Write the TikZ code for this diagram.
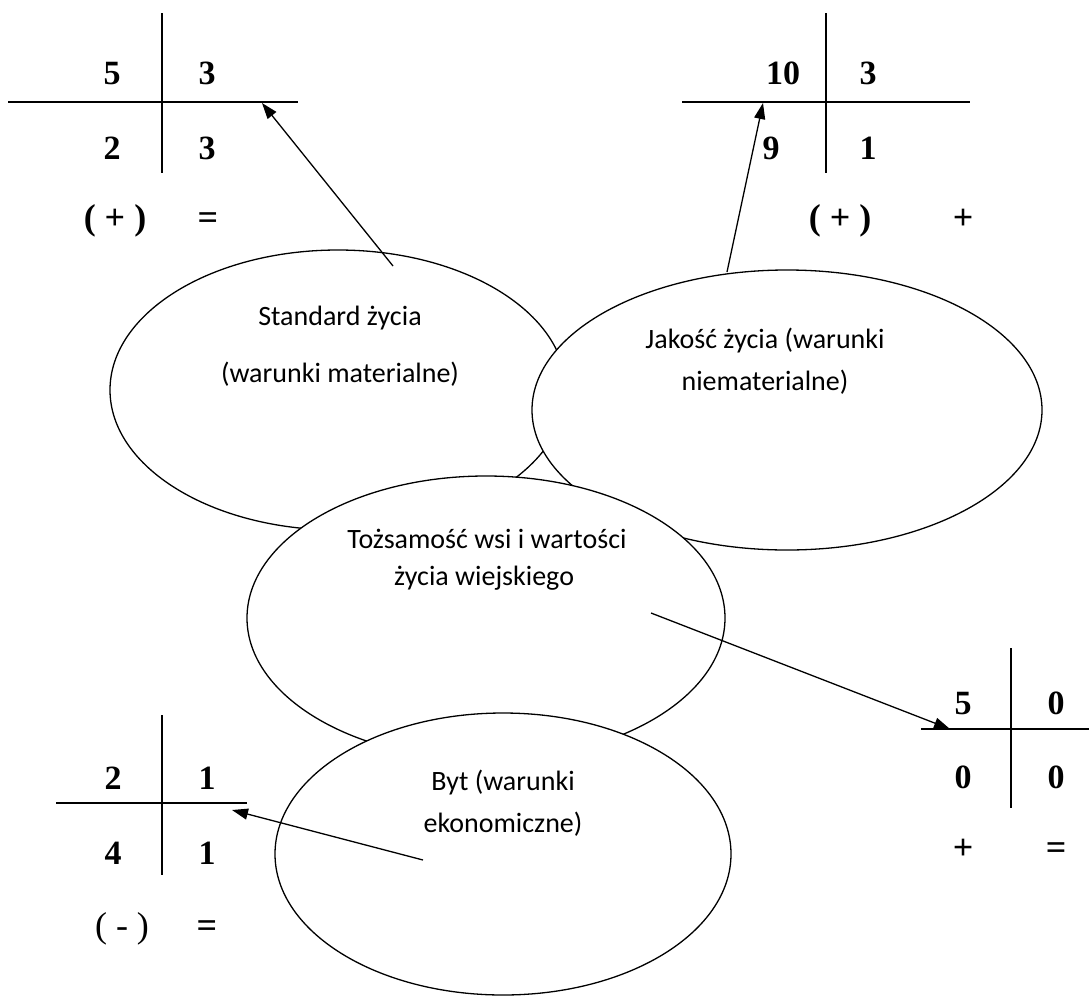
\documentclass[tikz,border=0pt]{standalone}
\usepackage{fontspec}
\setmainfont{Liberation Serif}
\newfontfamily\calib{Carlito}
\usetikzlibrary{shapes.geometric,arrows.meta}
\begin{document}
\begin{tikzpicture}[x=1pt,y=-1pt,
  oval/.style={draw, line width=1.3pt, fill=white, ellipse, inner sep=0pt},
  lbl/.style={font=\calib\fontsize{28}{34}\selectfont, anchor=base, inner sep=0pt},
  num/.style={font=\bfseries\fontsize{34}{40}\selectfont, anchor=base, inner sep=0pt},
  sym/.style={font=\bfseries\fontsize{36}{42}\selectfont, anchor=base, inner sep=0pt},
  symr/.style={font=\fontsize{36}{42}\selectfont, anchor=base, inner sep=0pt},
  rule/.style={line width=1.6pt},
  arr/.style={line width=1.3pt, -{Triangle[length=16pt,width=11pt]}}
]
\useasboundingbox (0,0) rectangle (1089,996);

% ---- top-left table
\coordinate (tlT) at (162,13); \coordinate (tlB) at (162,173);
\coordinate (tlL) at (8,102);  \coordinate (tlR) at (298,102);
\draw[rule] (tlT) -- (tlB); \draw[rule] (tlL) -- (tlR);
\node[num] (tl11) at (112,84.5) {5};
\node[num] (tl12) at (207,84.5) {3};
\node[num] (tl21) at (112,159.5) {2};
\node[num] (tl22) at (207,159.5) {3};
\node[sym] (tlsg) at (115,229) {( + )};
\node[sym] (tleq) at (208,229) {=};

% ---- top-right table
\coordinate (trT) at (826,13); \coordinate (trB) at (826,173);
\coordinate (trL) at (682,102); \coordinate (trR) at (970,102);
\draw[rule] (trT) -- (trB); \draw[rule] (trL) -- (trR);
\node[num] (tr11) at (783,84.5) {10};
\node[num] (tr12) at (868,84.5) {3};
\node[num] (tr21) at (771,159.5) {9};
\node[num] (tr22) at (868,159.5) {1};
\node[sym] (trsg) at (840,229) {( + )};
\node[sym] (trpl) at (963,229) {+};

% ---- bottom-right table
\coordinate (brT) at (1011,648); \coordinate (brB) at (1011,808);
\coordinate (brL) at (921,729);  \coordinate (brR) at (1089,729);
\draw[rule] (brT) -- (brB); \draw[rule] (brL) -- (brR);
\node[num] (br11) at (963,714.5) {5};
\node[num] (br12) at (1056,714.5) {0};
\node[num] (br21) at (963,788.5) {0};
\node[num] (br22) at (1056,788.5) {0};
\node[sym] (brpl) at (963,859) {+};
\node[sym] (breq) at (1056,859) {=};

% ---- bottom-left table
\coordinate (blT) at (162,715); \coordinate (blB) at (162,875);
\coordinate (blL) at (56,803);  \coordinate (blR) at (247,803);
\draw[rule] (blT) -- (blB); \draw[rule] (blL) -- (blR);
\node[num] (bl11) at (113,789.5) {2};
\node[num] (bl12) at (207,789.5) {1};
\node[num] (bl21) at (113,864.5) {4};
\node[num] (bl22) at (207,864.5) {1};
\node[symr] (blsg) at (122,937) {( - )};
\node[sym] (bleq) at (207,937) {=};

% ---- ellipses (later ones cover earlier ones)
\node[oval, minimum width=456pt, minimum height=280pt] (std) at (338,390) {};
\node[oval, minimum width=510pt, minimum height=280pt] (jak) at (787,410) {};
\node[oval, minimum width=478pt, minimum height=284pt] (toz) at (486,618) {};
\node[oval, minimum width=456pt, minimum height=282pt] (byt) at (503,854) {};

% ---- ellipse labels
\node[lbl] (std1) at (340,325) {Standard życia};
\node[lbl] (std2) at (340,382) {(warunki materialne)};
\node[lbl] (jak1) at (765,348) {Jakość życia (warunki};
\node[lbl] (jak2) at (765,390) {niematerialne)};
\node[lbl] (toz1) at (487,548) {Tożsamość wsi i wartości};
\node[lbl] (toz2) at (484,585) {życia wiejskiego};
\node[lbl] (byt1) at (503,790) {Byt (warunki};
\node[lbl] (byt2) at (503,832) {ekonomiczne)};

% ---- arrows
\coordinate (a1s) at (393,266); \coordinate (a1t) at (262,103);
\coordinate (a2s) at (727,272); \coordinate (a2t) at (763,103);
\coordinate (a3s) at (651,613); \coordinate (a3t) at (950,729);
\coordinate (a4s) at (423,860); \coordinate (a4t) at (232,810);
\draw[arr] (a1s) -- (a1t);
\draw[arr] (a2s) -- (a2t);
\draw[arr] (a3s) -- (a3t);
\draw[arr] (a4s) -- (a4t);
\end{tikzpicture}
\end{document}
